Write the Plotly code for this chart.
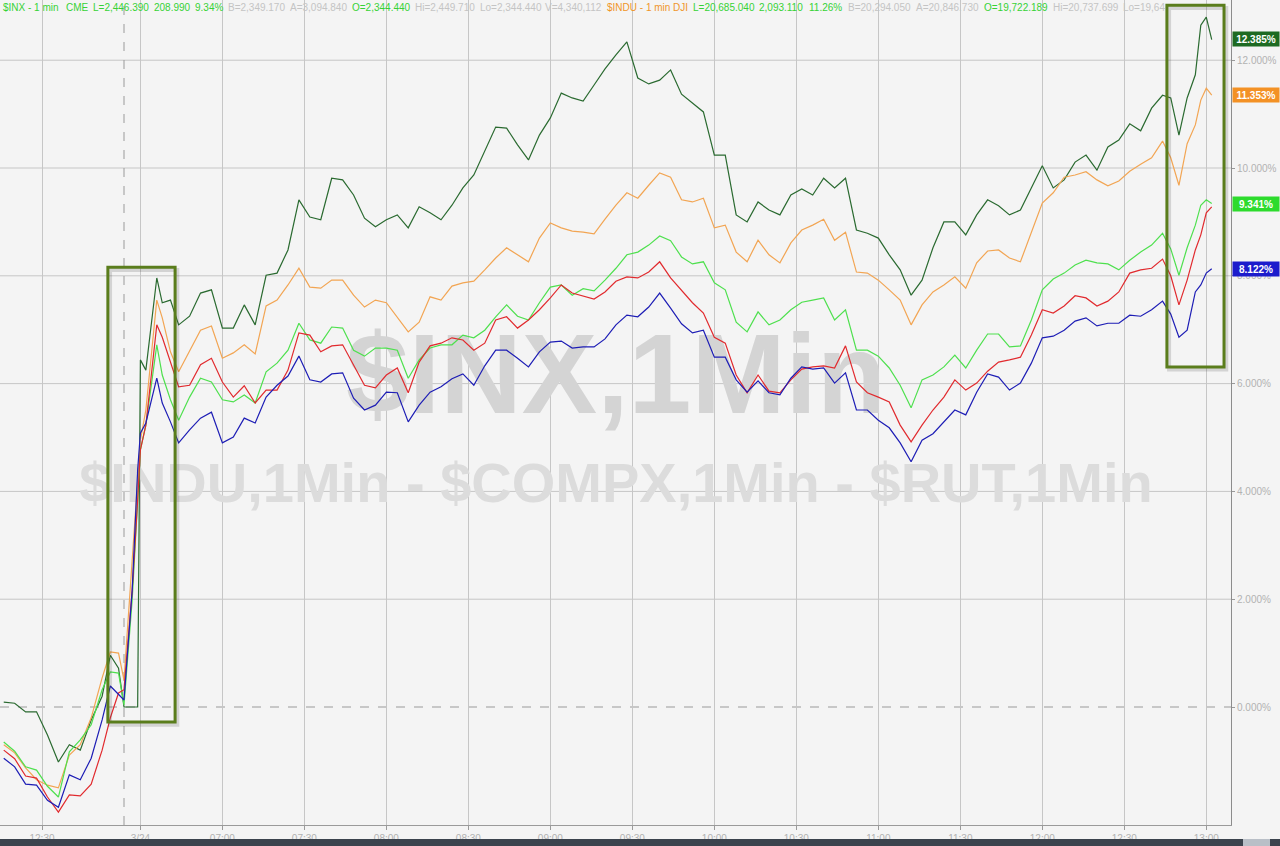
import plotly.graph_objects as go

# minutes since 12:30 of the previous session (3/24 session starts at ~36)
minutes = [-14, -10, -6, -2, 2, 6, 10, 14, 18, 22,
           25, 28, 30, 33, 35, 36, 38, 42, 44, 47, 50,
           54, 58, 62, 66, 70, 74, 78, 82, 86, 90,
           94, 98, 102, 106, 110, 114, 118, 122, 126, 130,
           134, 138, 142, 146, 150, 154, 158, 162, 166, 170,
           174, 178, 182, 186, 190, 194, 198, 202, 206, 210,
           214, 218, 222, 226, 230, 234, 238, 242, 246, 250,
           254, 258, 262, 266, 270, 274, 278, 282, 286, 290,
           294, 298, 302, 306, 310, 314, 318, 322, 326, 330,
           334, 338, 342, 346, 350, 354, 358, 362, 366, 370,
           374, 378, 382, 386, 390, 394, 398, 402, 406, 410,
           413, 416, 419, 422, 424, 426, 428]

dark_green = [0.09, 0.07, -0.09, -0.09, -0.52, -1.02, -0.70, -0.80, -0.24, 0.20,
              0.96, 0.72, 0.00, 0.00, 0.00, 6.44, 6.25, 7.96, 7.50, 7.55, 7.09,
              7.25, 7.68, 7.74, 7.03, 7.03, 7.46, 7.09, 8.01, 8.05, 8.48,
              9.41, 9.09, 9.04, 9.81, 9.78, 9.50, 9.07, 8.91, 9.04, 9.13,
              8.89, 9.28, 9.17, 9.04, 9.31, 9.63, 9.87, 10.33, 10.76, 10.74,
              10.43, 10.15, 10.61, 10.93, 11.39, 11.30, 11.24, 11.54, 11.84, 12.10,
              12.34, 11.67, 11.56, 11.63, 11.82, 11.37, 11.21, 11.04, 10.24, 10.24,
              9.13, 9.00, 9.37, 9.22, 9.13, 9.50, 9.61, 9.50, 9.81, 9.63,
              9.81, 8.85, 8.79, 8.70, 8.39, 8.11, 7.64, 7.92, 8.52, 9.00,
              9.00, 8.76, 9.13, 9.41, 9.30, 9.13, 9.22, 9.63, 10.04, 9.63,
              9.78, 10.11, 10.24, 9.96, 10.39, 10.52, 10.82, 10.69, 11.11, 11.35,
              11.30, 10.61, 11.30, 11.73, 12.65, 12.80, 12.38]

orange = [-0.70, -0.85, -1.13, -1.35, -1.45, -1.50, -0.89, -0.70, -0.20, 0.54,
          1.02, 1.00, 0.50, 2.73, 4.40, 4.95, 5.51, 7.55, 7.22, 6.59, 6.22,
          6.62, 6.99, 7.07, 6.47, 6.57, 6.72, 6.55, 7.44, 7.55, 7.83,
          8.14, 7.79, 7.77, 7.92, 7.92, 7.64, 7.42, 7.55, 7.50, 7.22,
          6.96, 7.14, 7.61, 7.55, 7.81, 7.87, 7.90, 8.11, 8.33, 8.52,
          8.39, 8.26, 8.70, 8.98, 8.89, 8.83, 8.81, 8.78, 9.05, 9.31,
          9.54, 9.44, 9.68, 9.91, 9.83, 9.41, 9.37, 9.44, 8.89, 8.94,
          8.44, 8.26, 8.66, 8.39, 8.24, 8.61, 8.85, 8.94, 9.05, 8.66,
          8.81, 8.07, 8.05, 7.92, 7.74, 7.55, 7.09, 7.46, 7.70, 7.83,
          7.98, 7.77, 8.24, 8.46, 8.48, 8.33, 8.26, 8.79, 9.35, 9.54,
          9.83, 9.87, 9.93, 9.78, 9.67, 9.76, 9.94, 10.07, 10.19, 10.50,
          10.19, 9.68, 10.45, 10.80, 11.26, 11.48, 11.35]

bright_green = [-0.65, -0.82, -1.11, -1.17, -1.47, -1.67, -0.83, -0.61, -0.33, 0.32,
                0.65, 0.63, 0.04, 1.99, 3.84, 4.77, 5.23, 6.72, 6.16, 5.70, 5.32,
                5.75, 6.10, 6.03, 5.70, 5.66, 5.79, 5.64, 6.22, 6.38, 6.62,
                7.12, 6.81, 6.75, 7.05, 7.03, 6.62, 6.51, 6.66, 6.66, 6.62,
                6.10, 6.44, 6.66, 6.72, 6.72, 6.90, 6.85, 6.99, 7.24, 7.46,
                7.25, 7.18, 7.50, 7.79, 7.83, 7.64, 7.76, 7.72, 7.92, 8.14,
                8.39, 8.44, 8.57, 8.74, 8.65, 8.35, 8.22, 8.26, 7.87, 7.74,
                7.14, 6.96, 7.33, 7.09, 7.18, 7.37, 7.51, 7.55, 7.59, 7.18,
                7.37, 6.62, 6.62, 6.51, 6.29, 5.97, 5.55, 6.07, 6.16, 6.31,
                6.53, 6.29, 6.62, 6.92, 6.92, 6.68, 6.70, 7.18, 7.74, 7.94,
                8.05, 8.20, 8.29, 8.24, 8.22, 8.11, 8.29, 8.44, 8.57, 8.79,
                8.50, 8.01, 8.52, 8.94, 9.31, 9.41, 9.34]

red = [-0.80, -0.96, -1.28, -1.32, -1.67, -1.95, -1.63, -1.65, -1.43, -0.80,
       -0.20, 0.26, 0.32, 2.17, 3.84, 4.77, 5.23, 7.09, 6.86, 6.40, 5.94,
       5.97, 6.35, 6.47, 6.03, 5.75, 5.96, 5.64, 5.88, 5.88, 6.25,
       6.94, 6.90, 6.59, 6.70, 6.72, 6.33, 5.97, 5.92, 6.16, 6.29,
       5.83, 6.40, 6.70, 6.75, 6.85, 6.81, 6.62, 6.75, 7.18, 7.24,
       7.03, 7.18, 7.37, 7.59, 7.83, 7.68, 7.63, 7.57, 7.70, 7.90,
       7.98, 7.96, 8.07, 8.26, 7.96, 7.74, 7.50, 7.31, 6.86, 6.75,
       6.16, 5.83, 6.16, 5.86, 5.83, 6.07, 6.27, 6.31, 6.33, 6.29,
       6.70, 6.03, 5.83, 5.75, 5.66, 5.23, 4.92, 5.23, 5.51, 5.75,
       6.07, 5.88, 6.01, 6.23, 6.40, 6.44, 6.49, 6.90, 7.37, 7.31,
       7.44, 7.63, 7.59, 7.44, 7.53, 7.70, 8.05, 8.11, 8.14, 8.31,
       8.00, 7.46, 7.92, 8.48, 8.76, 9.17, 9.28]

blue = [-0.95, -1.11, -1.43, -1.45, -1.73, -1.86, -1.26, -1.35, -0.95, -0.24,
        0.39, 0.24, 0.13, 2.17, 4.40, 5.08, 5.27, 6.10, 5.64, 5.29, 4.90,
        5.14, 5.36, 5.47, 4.90, 5.01, 5.36, 5.27, 5.75, 5.97, 6.14,
        6.51, 6.07, 6.03, 6.18, 6.20, 5.73, 5.51, 5.60, 5.84, 5.83,
        5.29, 5.60, 5.84, 5.94, 6.09, 6.18, 5.97, 6.33, 6.62, 6.62,
        6.47, 6.31, 6.59, 6.77, 6.79, 6.66, 6.68, 6.68, 6.83, 7.09,
        7.27, 7.24, 7.42, 7.68, 7.40, 7.11, 6.94, 6.99, 6.49, 6.49,
        6.07, 5.84, 6.05, 5.83, 5.79, 6.10, 6.31, 6.27, 6.29, 6.01,
        6.20, 5.51, 5.51, 5.32, 5.18, 4.90, 4.55, 4.95, 5.07, 5.29,
        5.51, 5.42, 5.84, 6.18, 6.12, 5.88, 6.01, 6.38, 6.85, 6.88,
        6.99, 7.16, 7.22, 7.07, 7.12, 7.12, 7.27, 7.25, 7.37, 7.53,
        7.29, 6.86, 6.99, 7.70, 7.83, 8.05, 8.13]

tick_minutes = [0, 36, 66, 96, 126, 156, 186, 216, 246, 276, 306, 336, 366, 396, 426]
tick_labels = ["12:30", "3/24", "07:00", "07:30", "08:00", "08:30", "09:00", "09:30",
               "10:00", "10:30", "11:00", "11:30", "12:00", "12:30", "13:00"]
y_ticks = [0, 2, 4, 6, 8, 10, 12]

last_values = [12.385, 11.353, 9.341, 8.122]
last_colors = ["#1d6a22", "#f39125", "#2ddb2d", "#1c1ccc"]

GREEN_TXT = "#36d236"
GRAY_TXT = "#c4c4c4"
ORANGE_TXT = "#f0962a"
header_tokens = [
    ("$INX - 1 min", 2, GREEN_TXT), ("CME", 65, GREEN_TXT), ("L=2,446.390", 92, GREEN_TXT),
    ("208.990", 153, GREEN_TXT), ("9.34%", 194, GREEN_TXT), ("B=2,349.170", 227, GRAY_TXT),
    ("A=3,094.840", 289, GRAY_TXT), ("O=2,344.440", 351, GREEN_TXT), ("Hi=2,449.710", 414, GRAY_TXT),
    ("Lo=2,344.440", 479, GRAY_TXT), ("V=4,340,112", 544, GRAY_TXT),
    ("$INDU - 1 min", 606, ORANGE_TXT), ("DJI", 672, ORANGE_TXT), ("L=20,685.040", 692, GREEN_TXT),
    ("2,093.110", 758, GREEN_TXT), ("11.26%", 808, GREEN_TXT), ("B=20,294.050", 847, GRAY_TXT),
    ("A=20,846.730", 915, GRAY_TXT), ("O=19,722.189", 983, GREEN_TXT), ("Hi=20,737.699", 1052, GRAY_TXT),
    ("Lo=19,64", 1122, GRAY_TXT),
]

PLOT_W = 1231
PLOT_H = 825
BG = "#f4f4f4"
GRID = "#c6c6c6"

fig = go.Figure()

# watermark text behind the lines
fig.add_trace(go.Scatter(x=[210], y=[5.97], mode="text", text=["$INX,1Min"],
                         textfont=dict(size=113, color="#d4d4d4", family="Liberation Sans, Arial",
                                       weight="bold"),
                         hoverinfo="skip", showlegend=False))
fig.add_trace(go.Scatter(x=[210], y=[4.06], mode="text",
                         text=["$INDU,1Min - $COMPX,1Min - $RUT,1Min"],
                         textfont=dict(size=56, color="#dcdcdc", family="Liberation Sans, Arial",
                                       weight="bold"),
                         hoverinfo="skip", showlegend=False))

series = [("$RUT", dark_green, "#2a6a30"), ("$INDU", orange, "#f2a553"),
          ("$INX", bright_green, "#4ee04e"), ("$COMPX", red, "#e12a2e"), ("ZB", blue, "#1d1db5")]
for name, vals, col in series:
    fig.add_trace(go.Scatter(x=minutes, y=vals, mode="lines", name=name,
                             line=dict(color=col, width=1.2), showlegend=False))

shapes = []
# horizontal grid
for v in y_ticks:
    shapes.append(dict(type="line", xref="paper", x0=0, x1=1, yref="y", y0=v, y1=v,
                       line=dict(color="#9a9a9a" if v == 0 else GRID, width=1,
                                 dash="dash" if v == 0 else "solid"), layer="below"))
# session break
shapes.append(dict(type="line", xref="x", x0=30, x1=30, yref="paper", y0=0, y1=1,
                   line=dict(color="#9a9a9a", width=1, dash="dash"), layer="below"))

# highlight boxes (shadow + box)
for x0, x1, y0, y1 in [(24.1, 48.7, -0.28, 8.16), (411.6, 432.5, 6.31, 13.02)]:
    shapes.append(dict(type="rect", x0=x0 + 0.8, x1=x1 + 0.8, y0=y0 - 0.05, y1=y1 - 0.05,
                       line=dict(color="rgba(60,60,60,0.18)", width=4)))
    shapes.append(dict(type="rect", x0=x0, x1=x1, y0=y0, y1=y1,
                       line=dict(color="#5a7d1c", width=3)))

# bottom scroll bar
for x0, x1, col in [(0, 1243, "#3b434d"), (1243, 1270, "#b9bfc7"), (1270, 1280, "#3b434d")]:
    shapes.append(dict(type="rect", xref="paper", yref="paper", x0=x0 / PLOT_W, x1=x1 / PLOT_W,
                       y0=-21 / PLOT_H, y1=-14 / PLOT_H, fillcolor=col, line=dict(width=0)))

annotations = []
for txt, xp, col in header_tokens:
    annotations.append(dict(text=txt, xref="paper", yref="paper", x=xp / PLOT_W, y=(PLOT_H - 8) / PLOT_H,
                            xanchor="left", yanchor="middle", showarrow=False, borderpad=0,
                            font=dict(size=10, color=col, family="Liberation Sans, Arial, sans-serif")))

for v, col in zip(last_values, last_colors):
    annotations.append(dict(text="<b>%.3f%%</b>" % v, xref="paper", yref="y", x=1, y=v,
                            xanchor="left", yanchor="middle", xshift=1, showarrow=False,
                            bgcolor=col, width=44, height=12, borderpad=1,
                            font=dict(size=10, color="white", family="Liberation Sans, Arial")))

fig.update_layout(
    width=1280, height=846,
    margin=dict(l=0, r=1280 - PLOT_W, t=0, b=846 - PLOT_H),
    paper_bgcolor=BG, plot_bgcolor=BG,
    shapes=shapes, annotations=annotations,
    xaxis=dict(range=[-15.37, 435.05], tickmode="array", tickvals=tick_minutes, ticktext=tick_labels,
               showgrid=True, gridcolor=GRID, gridwidth=1, zeroline=False,
               showline=True, linecolor="#9a9a9a", ticks="outside", ticklen=4, tickcolor="#9a9a9a",
               tickfont=dict(size=10, color="#b2b2b2", family="Liberation Sans, Arial")),
    yaxis=dict(range=[-2.189, 13.117], side="right", tickmode="array", tickvals=y_ticks,
               ticktext=["%.3f%%" % v for v in y_ticks],
               showgrid=False, zeroline=False, showline=True, linecolor="#8c8c8c",
               ticks="outside", ticklen=3, tickcolor="#9a9a9a",
               tickfont=dict(size=10, color="#b2b2b2", family="Liberation Sans, Arial")),
)

fig.write_html("out.html", config={"displayModeBar": False},
               post_script="document.body.style.margin='0';document.body.style.overflow='hidden';")
